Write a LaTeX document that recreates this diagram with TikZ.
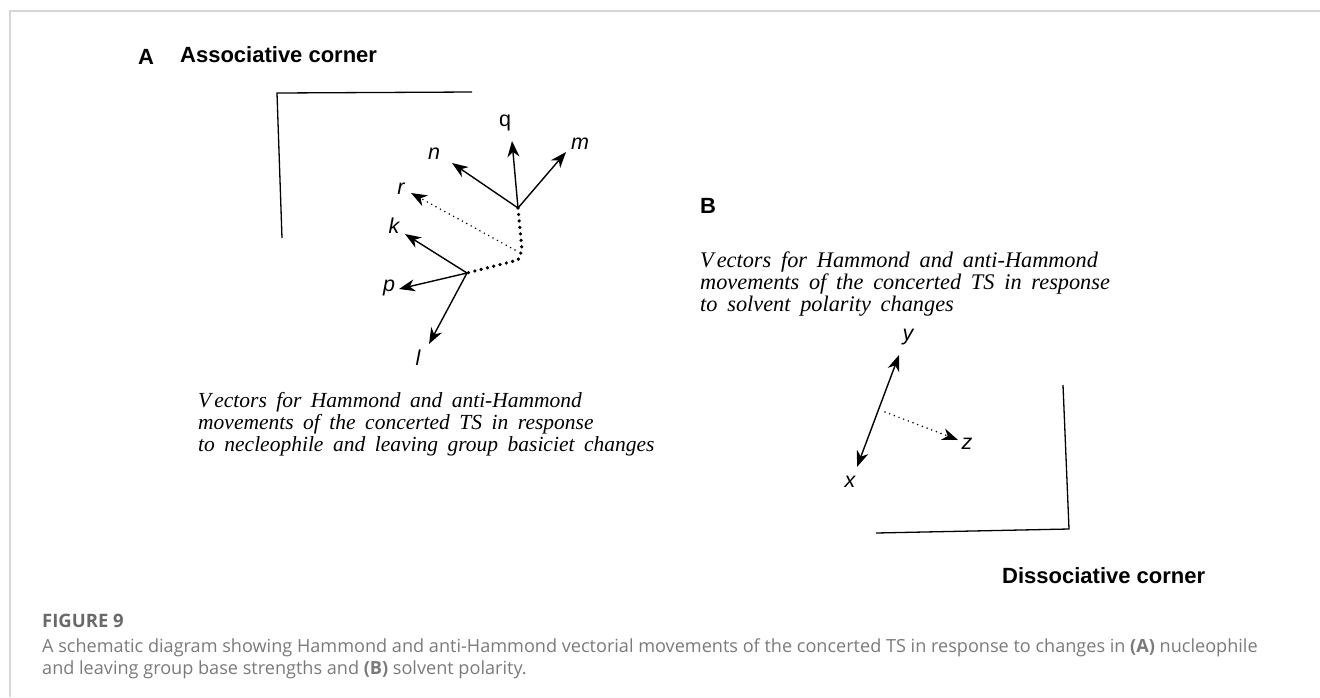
\documentclass[tikz,border=0pt]{standalone}
\usepackage{fontspec}
\setmainfont{Liberation Serif}
\setsansfont{Liberation Sans}
\newfontfamily\capfont{Open Sans}
\usetikzlibrary{arrows.meta}
\definecolor{framegray}{RGB}{214,214,214}
\definecolor{figgray}{RGB}{105,105,105}
\definecolor{capgray}{RGB}{122,122,122}
\newcommand\notefont{\rmfamily\itshape\fontsize{21.5}{22}\selectfont\spaceskip=9.5pt\relax}
\newcommand\notefontB{\rmfamily\itshape\fontsize{22.3}{22}\selectfont\spaceskip=9.8pt\relax}

\begin{document}
\begin{tikzpicture}[x=1pt, y=-1pt,
                    vec/.style={line width=1.4pt, -{Stealth[length=16pt, width=12pt, inset=5pt]}},
                    dotvec/.style={line width=1.7pt, line cap=round, dash pattern=on 0pt off 5pt, -{Stealth[length=16pt, width=12pt, inset=5pt]}},
                    bigdots/.style={line width=3.6pt, line cap=round, dash pattern=on 0pt off 6.5pt},
                    corner/.style={line width=1.3pt},
                    head/.style={font=\sffamily\bfseries\fontsize{22}{22}\selectfont, inner sep=0pt},
                    lbl/.style={font=\sffamily\itshape\fontsize{21.5}{21.5}\selectfont, inner sep=0pt},
                    note/.style={font=\notefont, align=left, inner sep=0pt}]
    \useasboundingbox (0,0) rectangle (1320,697);
    % frame
    \draw[framegray, line width=1.5pt] (10,697) -- (10,11) -- (1320,11);
    % headings
    \node[head, anchor=base west] (hA)  at (138,64)  {A};
    \node[head, anchor=base west] (asc) at (180,62)  {Associative corner};
    \node[head, anchor=base west] (hB)  at (700,213) {B};
    \node[head, anchor=base west] (dis) at (1002,583) {Dissociative corner};
    % corners
    \draw[corner] (472,92) -- (277,93) -- (282,238);
    \draw[corner] (1063,385) -- (1069,529) -- (876,533);
    % points of part A
    \coordinate (ta) at (518,208);
    \coordinate (c1) at (522,250);
    \coordinate (c2) at (518,260);
    \coordinate (tb) at (467,273);
    \coordinate (rs) at (515,250);
    \coordinate (qtip) at (512,141);
    \coordinate (ntip) at (452,163);
    \coordinate (mtip) at (566,152);
    \coordinate (rtip) at (411,193);
    \coordinate (ktip) at (405,234);
    \coordinate (ptip) at (399,289);
    \coordinate (ltip) at (429,344);
    % labels of part A
    \node[lbl, font=\sffamily\fontsize{21.5}{21.5}\selectfont] (q) at (505,123) {q};
    \node[lbl] (n) at (434,154) {n};
    \node[lbl] (m) at (580,144) {m};
    \node[lbl] (r) at (401,189) {r};
    \node[lbl] (k) at (394,226) {k};
    \node[lbl] (p) at (389,288) {p};
    \node[lbl] (l) at (418,358) {l};
    % vectors of part A
    \draw[vec] (ta) -- (qtip);
    \draw[vec] (ta) -- (ntip);
    \draw[vec] (ta) -- (mtip);
    \draw[bigdots] (ta) -- (c1) -- (c2) -- (tb);
    \draw[dotvec] (rs) -- (rtip);
    \draw[vec] (tb) -- (ktip);
    \draw[vec] (tb) -- (ptip);
    \draw[vec] (tb) -- (ltip);
    % points and labels of part B
    \coordinate (ytip) at (899,355);
    \coordinate (xtip) at (857,467);
    \coordinate (zs) at (885,412);
    \coordinate (ztip) at (958,440);
    \node[lbl] (y) at (908,337) {y};
    \node[lbl] (x) at (850,482) {x};
    \node[lbl] (z) at (967,444) {z};
    \draw[line width=1.4pt, {Stealth[length=16pt, width=12pt, inset=5pt]}-{Stealth[length=16pt, width=12pt, inset=5pt]}] (xtip) -- (ytip);
    \draw[dotvec] (zs) -- (ztip);
    % notes
    \node[note, anchor=north west] (noteA) at (198,392)
        {V\hspace{3pt}ectors for Hammond and anti-Hammond\\
         movements of the concerted TS in response\\
         to necleophile and leaving group basiciet changes};
    \node[note, font=\notefontB, anchor=north west] (noteB) at (700,252)
        {V\hspace{3pt}ectors for Hammond and anti-Hammond\\
         movements of the concerted TS in response\\
         to solvent polarity changes};
    % caption
    \node[anchor=base west, inner sep=0pt, text=figgray, font=\capfont\bfseries\fontsize{18.5}{18.5}\selectfont] (fig) at (42,627) {FIGURE 9};
    \node[anchor=north west, inner sep=0pt, text=capgray, align=left, font=\capfont\fontsize{18.1}{22}\selectfont] (cap) at (42,638)
        {A schematic diagram showing Hammond and anti-Hammond vectorial movements of the concerted TS in response to changes in \textbf{(A)} nucleophile\\
         and leaving group base strengths and \textbf{(B)} solvent polarity.};
\end{tikzpicture}
\end{document}
